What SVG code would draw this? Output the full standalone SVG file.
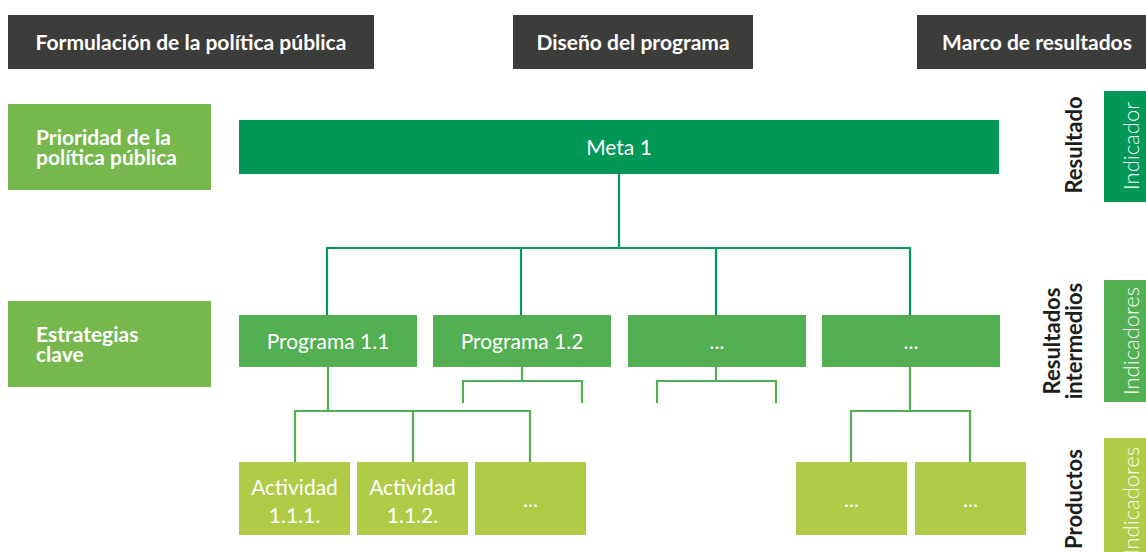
<svg xmlns="http://www.w3.org/2000/svg" width="1146" height="552" viewBox="0 0 1146 552">
<style>
text{font-family:Lato,"Open Sans","Liberation Sans",sans-serif}
.hd{fill:#3c3c3b}
.ht{fill:#fff;font-size:21px;font-weight:700;text-anchor:middle}
.lb{fill:#76b84e}
.lt{fill:#fff;font-size:21px;font-weight:700}
.g1{fill:#009757}
.g2{fill:#52af52}
.g3{fill:#afcb48}
.nt{fill:#fff;font-size:21px;text-anchor:middle}
.rt{fill:#1d1d1b;font-size:22px;font-weight:700;text-anchor:middle}
.it{fill:#fff;font-size:22px;font-weight:300;text-anchor:middle}
.c1{stroke:#009757;stroke-width:2.2;fill:none}
.c2{stroke:#52af52;stroke-width:2.2;fill:none}
</style>
<g id="connectors">
<path class="c1" d="M619 174V248M327 248H911M327 247V315M521 247V315M716 247V315M910 247V315"/>
<path class="c2" d="M328 367V411M294.5 411H531M295 410V462M413 410V462M530 410V462"/>
<path class="c2" d="M522 367V381M462 381H583M463 380V403M582 380V403"/>
<path class="c2" d="M716 367V381M656 381H777M657 380V403M776 380V403"/>
<path class="c2" d="M910 367V411M850 411H971M851 410V462M970 410V462"/>
</g>
<g id="h1"><rect class="hd" x="8" y="15" width="366" height="54"/><text class="ht" x="191" y="50">Formulación de la política pública</text></g>
<g id="h2"><rect class="hd" x="513" y="15" width="240" height="54"/><text class="ht" x="633" y="50">Diseño del programa</text></g>
<g id="h3"><rect class="hd" x="917" y="15" width="229" height="54"/><text class="ht" x="1037" y="50">Marco de resultados</text></g>
<g id="prioridad"><rect class="lb" x="8" y="104" width="203" height="86"/><text class="lt" x="36" y="145">Prioridad de la</text><text class="lt" x="36" y="165">política pública</text></g>
<g id="estrategias"><rect class="lb" x="8" y="301" width="203" height="86"/><text class="lt" x="36" y="342">Estrategias</text><text class="lt" x="36" y="362">clave</text></g>
<g id="meta1"><rect class="g1" x="239" y="120" width="760" height="54"/><text class="nt" x="619" y="155">Meta 1</text></g>
<g id="prog11"><rect class="g2" x="239" y="315" width="178" height="52"/><text class="nt" x="328" y="349">Programa 1.1</text></g>
<g id="prog12"><rect class="g2" x="433" y="315" width="178" height="52"/><text class="nt" x="522" y="349">Programa 1.2</text></g>
<g id="prog3"><rect class="g2" x="628" y="315" width="178" height="52"/><text class="nt" x="717" y="349">...</text></g>
<g id="prog4"><rect class="g2" x="822" y="315" width="178" height="52"/><text class="nt" x="911" y="349">...</text></g>
<g id="act111"><rect class="g3" x="239" y="462" width="111" height="73"/><text class="nt" x="294.5" y="495">Actividad</text><text class="nt" x="294.5" y="523">1.1.1.</text></g>
<g id="act112"><rect class="g3" x="357" y="462" width="111" height="73"/><text class="nt" x="412.5" y="495">Actividad</text><text class="nt" x="412.5" y="523">1.1.2.</text></g>
<g id="act3"><rect class="g3" x="475" y="462" width="111" height="73"/><text class="nt" x="530.5" y="507">...</text></g>
<g id="act4"><rect class="g3" x="796" y="462" width="111" height="73"/><text class="nt" x="851.5" y="507">...</text></g>
<g id="act5"><rect class="g3" x="915" y="462" width="111" height="73"/><text class="nt" x="970.5" y="507">...</text></g>
<g id="resultado"><text class="rt" transform="translate(1082 145) rotate(-90)">Resultado</text></g>
<g id="ind1"><rect class="g1" x="1104" y="91" width="42" height="111"/><text class="it" transform="translate(1139 146) rotate(-90)">Indicador</text></g>
<g id="intermedios"><text class="rt" transform="translate(1060 341) rotate(-90)">Resultados</text><text class="rt" transform="translate(1082 341) rotate(-90)">intermedios</text></g>
<g id="ind2"><rect class="g2" x="1104" y="280" width="42" height="122"/><text class="it" transform="translate(1139 341) rotate(-90)">Indicadores</text></g>
<g id="productos"><text class="rt" transform="translate(1082 499) rotate(-90)">Productos</text></g>
<g id="ind3"><rect class="g3" x="1104" y="438" width="42" height="114"/><text class="it" transform="translate(1139 501) rotate(-90)">Indicadores</text></g>
</svg>
